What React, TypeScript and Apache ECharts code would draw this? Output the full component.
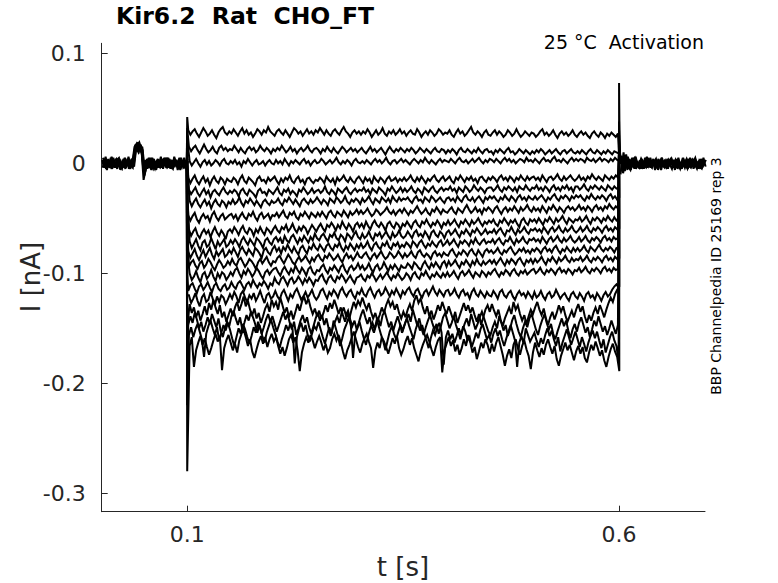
import React, { useEffect, useRef } from "react";
import * as echarts from "echarts";

// ---- axes / ticks ----
const X_TICKS = [0.1, 0.6];
const Y_TICKS = [-0.3, -0.2, -0.1, 0, 0.1];
const X_RANGE = [0.001, 0.6995];
const Y_RANGE = [-0.3167, 0.1091];

// ---- timing of the recording (s) ----
const PULSE_START = 0.1;
const PULSE_END = 0.6;
const PULSE_T0 = 0.1012; // first sample inside the pulse
const PULSE_DT = 0.0025;
const PRE_T0 = 0.0015;
const POST_T0 = 0.6012;
const BASE_DT = 0.0025;

// ---- current traces during the pulse, in pA ----
const TRACE_01 = [
  30,26,29,31,27,24,28,32,29,25,27,30,26,23,28,31,33,28,26,29,
  27,31,28,25,29,32,27,30,26,28,24,27,31,29,26,30,28,33,29,27,
  25,29,31,28,26,30,27,24,28,32,30,27,29,25,28,31,27,29,26,30,
  28,32,29,26,30,27,25,29,31,28,26,30,33,29,27,24,28,30,27,29,
  26,29,27,31,28,24,27,30,26,28,32,27,25,29,27,30,26,28,31,27,
  29,25,28,30,27,26,31,28,24,27,29,26,30,28,25,27,31,29,26,28,
  27,30,26,24,28,31,27,29,25,27,30,33,28,26,29,27,24,28,30,26,
  25,28,30,26,29,27,24,26,30,28,25,27,31,27,24,26,29,27,25,28,
  27,24,26,29,31,26,28,25,27,30,26,23,27,29,26,28,25,27,30,26,
  24,27,29,26,28,25,23,27,29,26,24,28,26,23,27,25,28,26,24,27,
];
const TRACE_02 = [
  15,11,14,16,12,9,13,17,13,10,12,15,11,9,14,16,12,14,11,13,
  12,16,13,10,14,11,9,13,15,12,14,10,12,16,13,11,14,12,9,13,
  11,14,12,16,13,10,12,15,11,13,9,12,14,11,13,16,12,10,13,14,
  12,9,13,11,15,12,10,14,11,9,12,15,13,10,12,14,11,13,10,12,
  14,11,9,12,15,11,13,10,12,14,11,8,12,15,12,10,13,11,14,12,
  10,13,11,14,12,9,11,14,12,10,13,11,9,12,14,11,10,13,12,9,
  12,10,13,11,8,12,14,11,10,13,11,9,12,10,14,11,9,12,13,10,
  11,8,12,10,13,11,9,12,14,10,11,8,10,13,11,9,12,10,8,11,
  9,12,10,13,11,8,10,12,9,11,13,10,8,11,12,9,11,13,10,9,
  11,9,12,10,8,11,13,10,9,12,10,8,11,9,12,10,8,11,10,9,
];
const TRACE_03 = [
  2,-2,1,4,0,-3,1,3,-1,2,-2,0,3,1,-2,2,4,0,-1,2,
  0,3,-1,1,-3,2,0,4,1,-2,1,3,-1,0,2,-2,1,3,0,-1,
  3,0,2,-1,4,1,-2,2,0,3,1,-1,2,4,0,2,-2,1,3,0,
  1,4,2,-1,1,3,0,2,5,1,-1,2,0,3,1,-2,2,4,1,0,
  2,0,3,1,-1,2,4,1,3,0,2,5,1,-1,2,3,0,2,4,1,
  3,1,-1,2,4,2,0,3,1,5,2,0,3,1,-1,2,4,1,3,2,
  1,4,2,0,3,5,2,1,3,0,2,4,1,3,5,2,0,3,1,4,
  3,1,4,2,0,3,5,2,4,1,3,0,2,4,3,1,5,2,3,1,
  4,2,0,3,5,2,3,1,4,6,2,3,1,4,2,0,3,5,2,4,
  2,4,3,1,5,3,2,4,1,3,5,2,4,3,1,4,2,5,3,2,
];
const TRACE_04 = [
  -13,-18,-14,-11,-16,-19,-15,-12,-17,-14,-20,-15,-12,-16,-18,-13,-15,-19,-14,-16,
  -17,-13,-15,-19,-14,-11,-16,-18,-13,-15,-17,-20,-14,-12,-16,-15,-18,-13,-16,-14,
  -12,-16,-19,-14,-17,-13,-15,-11,-16,-18,-14,-12,-17,-15,-19,-14,-13,-16,-18,-15,
  -16,-13,-15,-18,-12,-15,-17,-14,-19,-13,-16,-14,-11,-15,-17,-13,-16,-18,-14,-12,
  -15,-18,-13,-16,-14,-19,-12,-15,-17,-13,-15,-18,-14,-12,-16,-15,-13,-17,-14,-16,
  -13,-16,-14,-11,-15,-17,-13,-16,-12,-15,-18,-14,-16,-13,-11,-15,-17,-14,-12,-16,
  -14,-12,-16,-18,-13,-15,-11,-14,-17,-13,-15,-12,-16,-14,-18,-13,-12,-15,-17,-13,
  -15,-12,-14,-17,-13,-11,-15,-13,-16,-12,-14,-17,-13,-15,-11,-14,-16,-12,-15,-13,
  -12,-15,-13,-16,-11,-14,-17,-13,-12,-15,-13,-10,-14,-16,-12,-15,-13,-11,-14,-16,
  -14,-11,-15,-13,-16,-12,-14,-10,-13,-15,-12,-14,-16,-11,-13,-15,-12,-14,-11,-13,
];
const TRACE_05 = [
  -24,-28,-25,-22,-27,-30,-26,-23,-28,-25,-31,-26,-24,-27,-29,-25,-22,-26,-28,-25,
  -27,-24,-26,-30,-25,-23,-27,-29,-24,-26,-28,-31,-25,-23,-27,-26,-29,-24,-26,-28,
  -25,-22,-27,-29,-24,-26,-23,-28,-25,-27,-30,-24,-26,-22,-25,-28,-26,-23,-27,-25,
  -24,-27,-25,-21,-26,-28,-24,-26,-29,-23,-25,-27,-24,-22,-26,-28,-25,-23,-26,-24,
  -25,-22,-26,-24,-28,-23,-25,-27,-22,-24,-26,-29,-23,-25,-21,-24,-27,-25,-22,-26,
  -23,-26,-24,-21,-25,-27,-23,-25,-28,-22,-24,-26,-23,-21,-25,-27,-24,-22,-25,-23,
  -24,-21,-25,-23,-27,-22,-24,-26,-21,-23,-26,-24,-20,-23,-25,-22,-24,-27,-23,-22,
  -22,-25,-23,-20,-24,-26,-22,-24,-21,-23,-25,-22,-26,-21,-23,-24,-20,-23,-25,-22,
  -23,-20,-24,-22,-25,-21,-23,-26,-22,-20,-24,-22,-25,-21,-23,-20,-24,-22,-26,-21,
  -21,-24,-22,-19,-23,-25,-21,-23,-20,-22,-24,-21,-23,-25,-20,-22,-24,-21,-23,-22,
];
const TRACE_06 = [
  -34,-39,-35,-32,-37,-40,-36,-33,-38,-35,-41,-36,-33,-37,-39,-34,-36,-40,-35,-37,
  -33,-37,-35,-31,-36,-39,-34,-36,-32,-35,-38,-34,-37,-40,-35,-33,-36,-38,-34,-36,
  -35,-32,-36,-38,-33,-35,-31,-34,-37,-33,-36,-39,-34,-32,-35,-37,-33,-36,-34,-31,
  -34,-37,-33,-35,-38,-32,-34,-36,-31,-33,-36,-34,-30,-35,-37,-33,-35,-32,-34,-37,
  -32,-35,-33,-30,-34,-37,-32,-34,-36,-31,-33,-35,-32,-36,-30,-33,-35,-31,-34,-32,
  -33,-31,-34,-36,-32,-30,-34,-33,-36,-31,-33,-35,-30,-32,-35,-33,-31,-34,-36,-32,
  -31,-34,-32,-35,-30,-33,-35,-31,-29,-33,-34,-31,-35,-32,-30,-33,-36,-31,-33,-30,
  -32,-30,-33,-35,-31,-33,-29,-32,-34,-30,-32,-35,-31,-29,-33,-31,-34,-30,-32,-33,
  -30,-33,-31,-29,-32,-35,-31,-33,-30,-28,-32,-34,-30,-32,-29,-31,-34,-30,-32,-29,
  -31,-29,-32,-34,-30,-32,-28,-31,-33,-30,-32,-29,-31,-34,-30,-28,-32,-30,-33,-31,
];
const TRACE_07 = [
  -47,-52,-48,-45,-51,-54,-49,-46,-50,-48,-53,-47,-44,-49,-52,-48,-46,-51,-49,-47,
  -46,-50,-47,-52,-48,-45,-49,-51,-46,-48,-44,-49,-52,-47,-45,-50,-48,-46,-51,-47,
  -48,-45,-49,-46,-43,-48,-50,-45,-47,-44,-49,-51,-46,-48,-44,-47,-50,-45,-47,-49,
  -45,-48,-44,-47,-50,-45,-43,-47,-49,-44,-46,-48,-43,-46,-49,-44,-47,-45,-42,-46,
  -43,-46,-44,-41,-45,-48,-46,-42,-44,-47,-45,-43,-40,-44,-46,-43,-47,-44,-42,-45,
  -41,-44,-47,-43,-45,-42,-39,-43,-46,-44,-41,-45,-47,-42,-44,-40,-43,-46,-42,-44,
  -45,-42,-40,-44,-46,-41,-43,-45,-41,-38,-42,-45,-43,-40,-44,-42,-46,-41,-43,-40,
  -42,-45,-41,-39,-43,-46,-42,-40,-44,-41,-43,-39,-42,-45,-40,-43,-41,-38,-42,-44,
  -40,-43,-41,-44,-39,-42,-45,-40,-42,-38,-41,-44,-40,-42,-45,-41,-39,-42,-40,-43,
  -41,-38,-42,-40,-43,-39,-41,-44,-40,-38,-42,-40,-43,-39,-41,-37,-40,-42,-39,-41,
];
const TRACE_08 = [
  -60,-66,-62,-59,-65,-68,-63,-60,-64,-61,-67,-62,-58,-63,-66,-61,-64,-69,-62,-60,
  -63,-58,-61,-65,-60,-57,-62,-64,-59,-61,-66,-60,-63,-58,-62,-65,-59,-61,-64,-60,
  -57,-61,-63,-58,-60,-56,-62,-59,-55,-60,-63,-58,-61,-57,-59,-64,-60,-56,-59,-62,
  -58,-55,-59,-62,-56,-58,-54,-57,-61,-56,-59,-53,-57,-60,-55,-58,-62,-56,-54,-58,
  -55,-59,-53,-57,-60,-55,-52,-56,-58,-54,-57,-61,-55,-53,-57,-59,-54,-56,-60,-55,
  -57,-53,-56,-59,-54,-52,-56,-58,-53,-55,-51,-55,-58,-54,-56,-52,-55,-59,-54,-56,
  -52,-56,-54,-51,-55,-58,-53,-55,-51,-54,-57,-52,-55,-53,-50,-54,-57,-53,-55,-52,
  -54,-51,-55,-57,-52,-54,-50,-53,-56,-52,-54,-51,-55,-58,-52,-50,-54,-56,-51,-53,
  -51,-54,-50,-53,-56,-51,-53,-49,-52,-55,-50,-53,-51,-48,-52,-55,-50,-52,-54,-51,
  -52,-49,-53,-51,-48,-52,-55,-50,-52,-49,-51,-54,-50,-52,-48,-51,-53,-49,-52,-50,
];
const TRACE_09 = [
  -71,-77,-73,-69,-75,-79,-72,-70,-76,-74,-68,-73,-78,-71,-75,-72,-69,-76,-74,-70,
  -73,-69,-72,-76,-70,-67,-71,-74,-69,-72,-75,-68,-70,-73,-77,-70,-68,-72,-74,-69,
  -67,-71,-68,-73,-66,-70,-72,-67,-65,-69,-73,-68,-71,-66,-69,-72,-67,-70,-64,-68,
  -70,-66,-64,-68,-71,-65,-67,-63,-68,-70,-65,-67,-71,-64,-66,-69,-65,-62,-67,-69,
  -64,-68,-66,-62,-67,-70,-64,-66,-63,-68,-65,-62,-66,-69,-63,-67,-65,-61,-66,-68,
  -66,-62,-65,-68,-63,-61,-66,-64,-67,-62,-65,-69,-63,-61,-65,-67,-62,-64,-68,-63,
  -61,-65,-63,-60,-64,-67,-62,-64,-60,-63,-66,-61,-63,-59,-62,-65,-63,-60,-64,-62,
  -63,-60,-64,-61,-59,-63,-66,-61,-62,-58,-62,-65,-60,-63,-61,-58,-62,-64,-60,-61,
  -59,-62,-60,-63,-58,-61,-64,-60,-58,-62,-60,-57,-61,-63,-59,-62,-60,-57,-61,-63,
  -61,-58,-62,-60,-57,-61,-63,-59,-61,-58,-60,-63,-59,-57,-61,-59,-62,-58,-60,-59,
];
const TRACE_10 = [
  -80,-86,-82,-78,-84,-88,-83,-79,-85,-81,-77,-83,-87,-80,-84,-81,-78,-85,-83,-79,
  -82,-77,-81,-85,-79,-76,-80,-83,-78,-81,-84,-77,-79,-82,-86,-79,-77,-81,-83,-78,
  -75,-80,-77,-82,-76,-79,-74,-78,-81,-76,-80,-83,-77,-75,-79,-82,-76,-78,-73,-77,
  -79,-74,-77,-80,-75,-73,-77,-79,-74,-76,-72,-77,-80,-75,-78,-73,-76,-79,-74,-77,
  -73,-77,-75,-71,-76,-79,-74,-72,-76,-78,-73,-75,-71,-76,-78,-73,-75,-72,-77,-74,
  -76,-72,-74,-77,-71,-73,-76,-72,-70,-74,-77,-73,-75,-71,-74,-76,-72,-70,-75,-73,
  -70,-74,-72,-69,-73,-76,-71,-73,-70,-72,-75,-70,-73,-68,-72,-74,-71,-69,-73,-71,
  -72,-69,-73,-70,-68,-72,-74,-70,-71,-67,-71,-74,-69,-72,-70,-67,-71,-73,-69,-70,
  -68,-71,-69,-72,-67,-70,-73,-69,-67,-71,-69,-66,-70,-72,-68,-71,-69,-66,-70,-72,
  -70,-67,-71,-69,-66,-70,-72,-68,-70,-67,-69,-72,-68,-66,-70,-68,-71,-67,-69,-68,
];
const TRACE_11 = [
  -94,-90,-88,-93,-96,-91,-89,-95,-92,-87,-90,-94,-97,-92,-88,-91,-95,-93,-89,-92,
  -87,-91,-93,-88,-86,-90,-94,-91,-87,-89,-92,-96,-90,-87,-91,-88,-85,-90,-93,-89,
  -90,-86,-84,-88,-91,-87,-83,-86,-90,-92,-88,-85,-89,-87,-84,-88,-91,-86,-89,-85,
  -83,-87,-89,-84,-86,-82,-85,-88,-86,-83,-87,-90,-85,-82,-86,-84,-88,-85,-81,-85,
  -86,-83,-81,-85,-88,-84,-82,-86,-83,-80,-84,-87,-85,-81,-83,-86,-84,-80,-83,-86,
  -82,-85,-83,-80,-84,-86,-81,-79,-83,-85,-82,-84,-87,-82,-80,-84,-82,-85,-81,-83,
  -84,-80,-78,-82,-85,-81,-83,-79,-81,-84,-80,-78,-82,-84,-79,-82,-85,-80,-78,-81,
  -79,-82,-80,-77,-81,-83,-79,-81,-78,-76,-80,-83,-81,-78,-80,-77,-81,-79,-82,-78,
  -80,-77,-79,-82,-78,-76,-80,-78,-81,-77,-75,-79,-82,-78,-80,-76,-79,-81,-77,-80,
  -77,-80,-78,-75,-79,-81,-76,-78,-80,-77,-74,-78,-80,-77,-79,-76,-78,-81,-77,-78,
];
const TRACE_12 = [
  -100,-106,-103,-98,-104,-108,-101,-99,-105,-102,-97,-103,-107,-100,-104,-99,-101,-106,-103,-99,
  -102,-97,-95,-100,-104,-98,-101,-96,-99,-103,-100,-95,-98,-102,-105,-99,-97,-101,-98,-96,
  -95,-99,-102,-97,-94,-98,-101,-96,-99,-93,-97,-100,-95,-98,-102,-96,-94,-99,-101,-97,
  -98,-94,-92,-97,-100,-95,-97,-93,-96,-99,-94,-92,-97,-100,-95,-93,-97,-95,-91,-96,
  -93,-97,-95,-91,-96,-99,-94,-92,-97,-95,-90,-94,-98,-93,-96,-92,-95,-98,-93,-95,
  -95,-91,-93,-96,-90,-92,-95,-97,-92,-89,-93,-96,-91,-94,-90,-93,-96,-91,-89,-94,
  -89,-93,-91,-88,-92,-95,-90,-92,-88,-91,-94,-89,-92,-87,-91,-93,-89,-92,-90,-88,
  -91,-88,-92,-89,-86,-90,-93,-88,-91,-87,-89,-92,-88,-86,-90,-93,-88,-90,-87,-91,
  -87,-90,-88,-85,-89,-92,-87,-89,-85,-88,-91,-86,-89,-87,-84,-88,-90,-86,-89,-87,
  -88,-85,-89,-87,-84,-88,-90,-86,-88,-85,-87,-90,-86,-84,-88,-86,-89,-85,-87,-86,
];
const TRACE_13 = [
  -116,-111,-109,-114,-118,-112,-110,-115,-112,-108,-113,-117,-111,-109,-114,-116,-112,-110,-115,-113,
  -108,-112,-114,-109,-107,-111,-115,-110,-108,-112,-106,-110,-113,-109,-111,-107,-110,-114,-109,-111,
  -104,-108,-110,-105,-103,-107,-111,-106,-104,-109,-107,-103,-106,-110,-105,-108,-104,-107,-111,-106,
  -107,-103,-101,-106,-109,-104,-102,-106,-108,-103,-105,-101,-104,-108,-105,-102,-106,-109,-104,-103,
  -101,-105,-107,-102,-104,-100,-103,-107,-104,-101,-105,-102,-99,-103,-106,-102,-104,-100,-103,-106,
  -104,-100,-102,-106,-101,-99,-103,-105,-100,-102,-98,-102,-105,-101,-103,-99,-102,-104,-100,-103,
  -99,-103,-101,-98,-102,-105,-100,-98,-102,-100,-97,-101,-104,-99,-101,-103,-98,-100,-103,-99,
  -101,-98,-96,-100,-103,-99,-101,-97,-99,-102,-98,-96,-100,-102,-98,-100,-97,-101,-99,-97,
  -96,-100,-98,-95,-99,-101,-97,-99,-96,-98,-101,-97,-95,-99,-97,-100,-96,-98,-101,-97,
  -98,-95,-99,-97,-94,-98,-100,-96,-98,-95,-97,-100,-96,-94,-98,-96,-99,-95,-97,-96,
];
const TRACE_14 = [
  -120,-127,-123,-118,-125,-130,-122,-119,-126,-124,-117,-123,-129,-121,-126,-120,-122,-128,-124,-119,
  -123,-117,-121,-127,-119,-116,-122,-126,-120,-123,-118,-125,-121,-116,-122,-127,-120,-118,-123,-121,
  -116,-121,-124,-118,-115,-120,-125,-119,-122,-117,-114,-119,-124,-121,-117,-122,-119,-115,-121,-124,
  -121,-116,-114,-119,-123,-117,-120,-115,-118,-122,-116,-113,-118,-121,-117,-115,-120,-123,-117,-119,
  -114,-119,-121,-116,-113,-118,-122,-117,-115,-120,-118,-113,-117,-121,-116,-119,-114,-118,-122,-116,
  -119,-115,-113,-118,-121,-116,-114,-119,-122,-117,-115,-120,-116,-112,-117,-120,-115,-118,-121,-116,
  -115,-120,-118,-114,-119,-122,-117,-115,-120,-118,-123,-117,-114,-119,-121,-116,-119,-122,-117,-120,
  -121,-116,-119,-123,-117,-115,-120,-122,-118,-116,-121,-124,-119,-116,-120,-118,-122,-117,-120,-123,
  -117,-122,-120,-116,-121,-124,-119,-117,-122,-120,-115,-119,-123,-120,-118,-122,-125,-119,-117,-121,
  -123,-118,-121,-125,-119,-117,-122,-120,-124,-118,-121,-125,-120,-117,-121,-119,-115,-112,-110,-113,
];
const TRACE_15 = [
  -128,-136,-131,-140,-134,-143,-137,-130,-138,-127,-133,-124,-131,-137,-129,-140,-135,-144,-138,-132,
  -139,-131,-126,-134,-128,-121,-130,-125,-133,-138,-132,-141,-136,-145,-139,-132,-128,-135,-124,-130,
  -126,-133,-122,-129,-136,-131,-140,-134,-142,-135,-128,-134,-126,-121,-128,-123,-131,-137,-132,-139,
  -134,-141,-136,-129,-135,-127,-132,-124,-130,-137,-131,-138,-144,-137,-141,-133,-126,-131,-125,-129,
  -122,-128,-133,-127,-135,-141,-136,-143,-138,-131,-136,-129,-124,-130,-126,-133,-128,-136,-141,-135,
  -140,-133,-128,-134,-125,-120,-127,-123,-131,-137,-130,-139,-134,-142,-136,-129,-134,-126,-132,-137,
  -130,-136,-142,-135,-145,-139,-133,-127,-134,-129,-136,-131,-138,-144,-137,-147,-140,-133,-129,-135,
  -128,-134,-139,-133,-142,-148,-141,-136,-131,-137,-126,-133,-129,-137,-143,-138,-146,-139,-133,-137,
  -131,-126,-133,-138,-132,-141,-147,-140,-135,-142,-136,-129,-135,-130,-138,-144,-139,-134,-140,-133,
  -128,-135,-130,-139,-145,-138,-143,-136,-131,-137,-129,-134,-140,-133,-127,-122,-126,-119,-115,-112,
];
const TRACE_16 = [
  -147,-139,-145,-136,-142,-150,-144,-153,-147,-140,-146,-137,-143,-149,-141,-152,-158,-150,-144,-148,
  -139,-134,-141,-147,-140,-151,-145,-138,-143,-135,-140,-146,-154,-147,-155,-149,-142,-137,-144,-139,
  -146,-153,-147,-141,-135,-142,-137,-145,-151,-144,-156,-150,-143,-138,-145,-140,-149,-155,-148,-141,
  -136,-143,-138,-147,-141,-150,-157,-149,-144,-139,-145,-136,-131,-138,-134,-142,-148,-143,-151,-145,
  -138,-133,-140,-146,-140,-149,-154,-147,-141,-148,-138,-135,-142,-149,-144,-152,-145,-139,-146,-154,
  -148,-142,-137,-144,-133,-140,-147,-141,-150,-156,-149,-143,-138,-145,-151,-146,-155,-148,-140,-136,
  -143,-150,-145,-139,-147,-153,-160,-152,-146,-141,-148,-137,-144,-151,-146,-140,-135,-141,-147,-153,
  -156,-149,-144,-150,-139,-145,-152,-147,-157,-151,-143,-138,-146,-153,-158,-150,-144,-149,-141,-137,
  -144,-151,-156,-148,-142,-137,-145,-151,-146,-155,-160,-153,-147,-141,-148,-143,-152,-159,-151,-146,
  -153,-145,-140,-147,-154,-149,-158,-151,-143,-148,-139,-146,-153,-148,-156,-150,-143,-149,-155,-147,
];
const TRACE_17 = [
  -156,-149,-158,-151,-146,-153,-160,-176,-155,-148,-143,-150,-156,-149,-161,-154,-147,-152,-145,-151,
  -159,-166,-158,-150,-155,-146,-151,-158,-164,-157,-149,-154,-144,-150,-157,-163,-154,-148,-142,-149,
  -155,-162,-168,-160,-154,-147,-152,-145,-151,-182,-158,-150,-145,-153,-147,-156,-162,-155,-148,-151,
  -144,-151,-158,-164,-156,-149,-155,-143,-150,-157,-166,-159,-151,-146,-140,-148,-177,-155,-150,-144,
  -152,-159,-165,-157,-150,-145,-151,-142,-149,-156,-162,-170,-161,-153,-148,-155,-160,-153,-147,-152,
  -146,-141,-148,-154,-160,-151,-145,-152,-147,-155,-161,-168,-159,-152,-156,-149,-145,-154,-183,-158,
  -152,-160,-155,-163,-157,-150,-156,-148,-153,-161,-158,-167,-161,-154,-159,-151,-146,-153,-160,-156,
  -163,-155,-150,-157,-152,-160,-166,-159,-153,-147,-154,-161,-185,-163,-157,-164,-150,-156,-162,-158,
  -154,-161,-167,-159,-164,-156,-150,-157,-152,-160,-166,-158,-171,-163,-157,-151,-158,-165,-159,-153,
  -160,-167,-158,-164,-171,-163,-157,-152,-159,-153,-161,-168,-160,-172,-165,-158,-153,-161,-166,-181,
];
const TRACE_18 = [
  -166,-158,-185,-170,-163,-157,-165,-159,-167,-174,-168,-161,-155,-162,-157,-188,-168,-161,-156,-163,
  -170,-164,-172,-161,-155,-151,-158,-166,-160,-171,-177,-169,-162,-157,-164,-158,-167,-160,-155,-162,
  -158,-166,-173,-167,-175,-168,-160,-156,-163,-158,-170,-189,-172,-164,-158,-163,-156,-161,-168,-162,
  -157,-163,-170,-164,-172,-168,-160,-155,-161,-156,-163,-171,-178,-170,-165,-159,-153,-160,-167,-172,
  -164,-159,-155,-162,-168,-186,-170,-163,-168,-158,-162,-167,-173,-166,-159,-164,-157,-168,-174,-169,
  -162,-157,-165,-159,-168,-174,-180,-171,-165,-160,-156,-162,-169,-175,-167,-161,-158,-190,-170,-164,
  -158,-166,-161,-171,-165,-174,-168,-160,-166,-156,-163,-172,-167,-178,-171,-163,-168,-160,-165,-173,
  -164,-171,-163,-158,-166,-174,-184,-175,-169,-177,-165,-160,-168,-174,-166,-161,-169,-175,-187,-172,
  -163,-170,-176,-168,-174,-165,-160,-167,-173,-166,-178,-184,-175,-169,-163,-170,-165,-172,-179,-171,
  -166,-173,-167,-177,-181,-172,-165,-170,-162,-168,-175,-170,-179,-185,-176,-169,-164,-171,-176,-189,
];
const PULSE_TRACES = [
  TRACE_01, TRACE_02, TRACE_03, TRACE_04, TRACE_05, TRACE_06, TRACE_07, TRACE_08, TRACE_09,
  TRACE_10, TRACE_11, TRACE_12, TRACE_13, TRACE_14, TRACE_15, TRACE_16, TRACE_17, TRACE_18,
];
// capacitive transients at the step on (t = 0.1) and off (t = 0.6), pA
const ON_PEAK = [42, 32, 22, 12, 2, -8, -18, -28, -38, -50, -62, -80, -100, -120, -150, -180, -220, -280];
const OFF_PEAK = [8, 10, 6, 12, 9, 14, 11, 16, 13, 18, 15, 20, 17, 22, 26, 30, 38, 73];

// ---- baseline before / after the pulse, pA ----
const BASE_PRE = [
  [3,-4,2,-2,5,-3,1,-5,4,-1,3,-4,2,-5,1,15,18,12,16,-4,3,-5,2,-1,4,-6,1,-3,4,-2,5,-4,2,-1,3,-6,2,-3,5,-2],
  [-4,3,-6,2,-1,5,-4,3,-2,-5,2,-3,6,-2,-4,11,16,19,13,-15,-5,3,-4,5,-3,1,-2,6,-5,2,-1,4,-4,3,-2,1,-6,3,-3,2],
  [5,-2,1,-4,6,-1,-3,4,-6,2,-2,3,-5,1,4,17,12,15,10,-7,2,-4,5,-1,-5,3,-4,2,-2,5,-3,1,-5,6,-1,-3,4,-2,1,-5],
  [-1,6,-3,1,-5,2,4,-2,1,-4,5,-1,-3,4,-2,13,19,11,15,-11,-2,5,-1,-5,2,-4,3,-4,1,-3,5,-5,3,-2,2,-1,5,-4,-2,4],
  [2,-5,4,-3,1,-4,3,5,-2,0,-5,4,-1,3,-3,14,10,17,12,-9,4,-2,-6,3,-1,4,-3,0,5,-4,2,-2,-5,3,0,5,-3,1,-4,2],
];
const BASE_POST = [
  [9,-7,5,-4,3,-6,4,-3,2,-5,3,-5,2,-3,5,-2,1,-4,3,-6,2,-3,4,-1,-5,3,-2,5,-3,1,-4,2,-2,4,-5,3,-1,2,-4,1],
  [-10,6,-7,4,-5,3,-4,6,-2,3,-5,1,-3,4,-4,2,-6,3,-1,5,-3,2,-5,4,-2,1,-4,3,-3,5,-1,-5,2,-3,4,-2,1,-5,3,-2],
  [7,-9,3,-6,4,-3,5,-5,1,-5,2,-2,6,-3,-1,4,-5,2,-3,5,-2,-4,3,-1,2,-6,4,-3,1,-2,3,-5,5,-1,-3,2,-5,4,-2,3],
  [-6,10,-4,6,-3,5,-5,2,-4,3,-1,5,-4,2,-3,1,4,-6,3,-2,-4,2,-3,5,-1,3,-5,1,-5,2,-2,4,-3,3,-1,-5,2,-2,5,-3],
  [4,-5,8,-3,-6,2,5,-2,-4,4,0,-3,5,-1,-4,3,-2,4,-5,1,3,-3,0,4,-4,2,-1,-5,3,0,4,-2,-4,1,5,-3,2,-4,0,3],
];

const TITLE = "Kir6.2  Rat  CHO_FT";
const SUBTITLE = "25 °C  Activation";
const SIDE_NOTE = "BBP Channelpedia ID 25169 rep 3";
const X_NAME = "t [s]";
const Y_NAME = "I [nA]";

const pA = (v: number) => v / 1000;

function buildSeries() {
  const line = { type: "line", showSymbol: false, symbol: "none", silent: true,
    lineStyle: { color: "#000", width: 2, join: "miter", miterLimit: 3 }, animation: false };
  const out: any[] = [];
  BASE_PRE.forEach((arr, j) => {
    const t0 = PRE_T0 + j * 0.0005;
    out.push({ ...line, data: arr.map((v, k) => [t0 + k * BASE_DT, pA(v)]) });
  });
  BASE_POST.forEach((arr, j) => {
    const t0 = POST_T0 + j * 0.0005;
    out.push({ ...line, data: arr.map((v, k) => [t0 + k * BASE_DT, pA(v)]) });
  });
  PULSE_TRACES.forEach((arr, i) => {
    const t0 = PULSE_T0 + (i % 3) * 0.0008;
    const data: number[][] = [];
    data.push([PULSE_START - 0.0005, 0]);
    data.push([PULSE_START, pA(ON_PEAK[i])]);
    arr.forEach((v, k) => data.push([t0 + k * PULSE_DT, pA(v)]));
    data.push([PULSE_END, pA(OFF_PEAK[i])]);
    data.push([PULSE_END + 0.0008, 0]);
    out.push({ ...line, data });
  });
  return out;
}

export default function App() {
  const ref = useRef<HTMLDivElement>(null);
  useEffect(() => {
    if (!ref.current) return;
    const chart = echarts.init(ref.current, null, { renderer: "svg" });
    const axisColor = "#262626";
    const font = "DejaVu Sans";
    chart.setOption({
      animation: false,
      backgroundColor: "#fff",
      grid: { left: 101.7, right: 73, top: 43.3, bottom: 71.3, containLabel: false },
      xAxis: {
        type: "value",
        min: X_RANGE[0],
        max: X_RANGE[1],
        axisLine: { show: true, onZero: false, lineStyle: { color: axisColor, width: 1 } },
        axisTick: { show: true, inside: true, length: 6, customValues: X_TICKS, lineStyle: { color: axisColor } },
        axisLabel: { show: true, customValues: X_TICKS, margin: 12, color: axisColor, fontFamily: font, fontSize: 22,
          formatter: (v: number) => String(v) },
        splitLine: { show: false },
      },
      yAxis: {
        type: "value",
        min: Y_RANGE[0],
        max: Y_RANGE[1],
        axisLine: { show: true, onZero: false, lineStyle: { color: axisColor, width: 1 } },
        axisTick: { show: true, inside: true, length: 6, customValues: Y_TICKS, lineStyle: { color: axisColor } },
        axisLabel: { show: true, customValues: Y_TICKS, margin: 16, color: axisColor, fontFamily: font, fontSize: 22,
          formatter: (v: number) => String(v) },
        splitLine: { show: false },
      },
      graphic: [
        { type: "text", left: 116, top: 4, style: { text: TITLE, fill: "#000", font: `bold 23.5px "${font}"` } },
        { type: "text", x: 704, y: 42, style: { text: SUBTITLE, fill: "#000", font: `19px "${font}"`, align: "right", verticalAlign: "middle" } },
        { type: "text", x: 716, y: 276, rotation: Math.PI / 2, style: { text: SIDE_NOTE, fill: "#000", font: `14px "${font}"`, align: "center", verticalAlign: "middle" } },
        { type: "text", x: 403, y: 567, style: { text: X_NAME, fill: axisColor, font: `26px "${font}"`, align: "center", verticalAlign: "middle" } },
        { type: "text", x: 31, y: 277, rotation: Math.PI / 2, style: { text: Y_NAME, fill: axisColor, font: `26px "${font}"`, align: "center", verticalAlign: "middle" } },
      ],
      series: buildSeries(),
    });
    return () => chart.dispose();
  }, []);
  return <div ref={ref} style={{ position: "absolute", left: 0, top: 0, width: 778, height: 583 }} />;
}
